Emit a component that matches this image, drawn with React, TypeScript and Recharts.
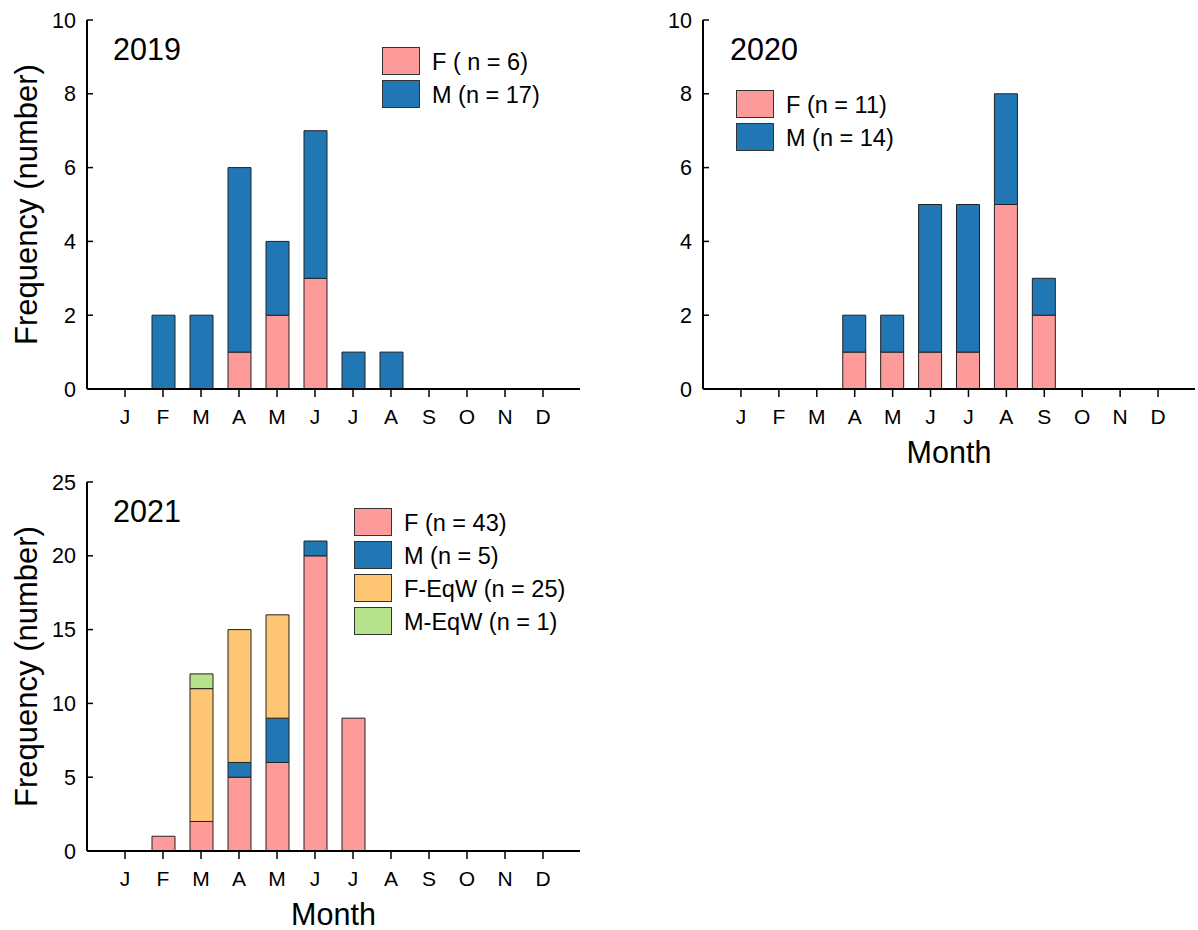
import React from 'react';
import { BarChart, Bar, XAxis, YAxis } from 'recharts';

const monthKeys = ['Jan', 'Feb', 'Mar', 'Apr', 'May', 'Jun', 'Jul', 'Aug', 'Sep', 'Oct', 'Nov', 'Dec'];
const monthLabels = ['J', 'F', 'M', 'A', 'M', 'J', 'J', 'A', 'S', 'O', 'N', 'D'];

const f2019 = [0, 0, 0, 1, 2, 3, 0, 0, 0, 0, 0, 0];
const m2019 = [0, 2, 2, 5, 2, 4, 1, 1, 0, 0, 0, 0];

const f2020 = [0, 0, 0, 1, 1, 1, 1, 5, 2, 0, 0, 0];
const m2020 = [0, 0, 0, 1, 1, 4, 4, 3, 1, 0, 0, 0];

const f2021 = [0, 1, 2, 5, 6, 20, 9, 0, 0, 0, 0, 0];
const m2021 = [0, 0, 0, 1, 3, 1, 0, 0, 0, 0, 0, 0];
const feqw2021 = [0, 0, 9, 9, 7, 0, 0, 0, 0, 0, 0, 0];
const meqw2021 = [0, 0, 1, 0, 0, 0, 0, 0, 0, 0, 0, 0];

const ticks10 = [0, 2, 4, 6, 8, 10];
const ticks25 = [0, 5, 10, 15, 20, 25];

const legend2019 = ['F ( n = 6)', 'M (n = 17)'];
const legend2020 = ['F (n = 11)', 'M (n = 14)'];
const legend2021 = ['F (n = 43)', 'M (n = 5)', 'F-EqW (n = 25)', 'M-EqW (n = 1)'];

const PINK = '#FD9A9A';
const BLUE = '#2077B4';
const ORANGE = '#FEC674';
const GREEN = '#B6E28B';
const FONT = '"Liberation Sans", Arial, Helvetica, sans-serif';

type Series = { key: string; values: number[]; color: string; label: string };

function buildData(series: Series[]) {
  return monthKeys.map((m, i) => {
    const row: Record<string, number | string> = { month: m };
    series.forEach((s) => {
      row[s.key] = s.values[i];
    });
    return row;
  });
}

type PanelProps = {
  left: number;
  top: number;
  width: number;
  height: number;
  marginRight: number;
  xAxisHeight: number;
  yMax: number;
  yTicks: number[];
  series: Series[];
  year: string;
  yearX: number;
  legendX: number;
  legendY: number;
  showYTitle: boolean;
  showMonth: boolean;
};

function Panel(p: PanelProps) {
  const data = buildData(p.series);
  const plotTop = 20;
  const plotBottom = p.height - p.xAxisHeight;
  const plotLeft = 87;
  const plotRight = p.width - p.marginRight;
  return (
    <div style={{ position: 'absolute', left: p.left, top: p.top, width: p.width, height: p.height }}>
      <BarChart
        width={p.width}
        height={p.height}
        data={data}
        margin={{ top: plotTop, right: p.marginRight, bottom: 0, left: 0 }}
        barGap={0}
      >
        <XAxis
          dataKey="month"
          height={p.xAxisHeight}
          padding={{ left: 19, right: 18 }}
          tickFormatter={(_v: string, i: number) => monthLabels[i]}
          interval={0}
          tickSize={8}
          tickMargin={12}
          axisLine={{ stroke: '#000', strokeWidth: 2 }}
          tickLine={{ stroke: '#000', strokeWidth: 1.5 }}
          tick={{ fill: '#000', fontSize: 21, fontFamily: FONT }}
        />
        <XAxis
          xAxisId="top"
          dataKey="month"
          orientation="top"
          height={0}
          padding={{ left: 19, right: 18 }}
          tick={false}
          tickLine={false}
          axisLine={{ stroke: '#000', strokeWidth: 2 }}
        />
        <YAxis
          width={87}
          domain={[0, p.yMax]}
          ticks={p.yTicks}
          allowDataOverflow
          tickSize={-6}
          tickMargin={17}
          axisLine={{ stroke: '#000', strokeWidth: 2 }}
          tickLine={{ stroke: '#000', strokeWidth: 1.5 }}
          tick={{ fill: '#000', fontSize: 21.5, fontFamily: FONT }}
        />
        <YAxis
          yAxisId="r"
          orientation="right"
          width={0}
          domain={[0, p.yMax]}
          ticks={p.yTicks}
          tick={false}
          tickSize={-6}
          axisLine={{ stroke: '#000', strokeWidth: 2 }}
          tickLine={{ stroke: '#000', strokeWidth: 1.5 }}
        />
        {p.series.map((s) => (
          <Bar
            key={s.key}
            dataKey={s.key}
            name={s.label}
            stackId="a"
            fill={s.color}
            stroke="#222"
            strokeWidth={1}
            barSize={23}
            isAnimationActive={false}
          />
        ))}
      </BarChart>
      <svg
        width={p.width}
        height={p.height}
        style={{ position: 'absolute', left: 0, top: 0, pointerEvents: 'none' }}
      >
        <text x={p.yearX} y={60} fontSize={30.5} fontFamily={FONT} fill="#000">
          {p.year}
        </text>
        {p.showYTitle && (
          <text
            transform={`translate(37, ${(plotTop + plotBottom) / 2}) rotate(-90)`}
            textAnchor="middle"
            fontSize={31}
            fontFamily={FONT}
            fill="#000"
          >
            Frequency (number)
          </text>
        )}
        {p.showMonth && (
          <text
            x={(plotLeft + plotRight) / 2}
            y={plotBottom + 74}
            textAnchor="middle"
            fontSize={30.5}
            fontFamily={FONT}
            fill="#000"
          >
            Month
          </text>
        )}
        {p.series.map((s, i) => (
          <g key={s.key}>
            <rect
              x={p.legendX + 0.5}
              y={p.legendY + i * 33 + 0.5}
              width={37}
              height={27}
              fill={s.color}
              stroke="#333"
              strokeWidth={1}
            />
            <text
              x={p.legendX + 50}
              y={p.legendY + i * 33 + 22.5}
              fontSize={23.5}
              fontFamily={FONT}
              fill="#000"
            >
              {s.label}
            </text>
          </g>
        ))}
      </svg>
    </div>
  );
}

export default function App() {
  const s2019: Series[] = [
    { key: 'F', values: f2019, color: PINK, label: legend2019[0] },
    { key: 'M', values: m2019, color: BLUE, label: legend2019[1] },
  ];
  const s2020: Series[] = [
    { key: 'F', values: f2020, color: PINK, label: legend2020[0] },
    { key: 'M', values: m2020, color: BLUE, label: legend2020[1] },
  ];
  const s2021: Series[] = [
    { key: 'F', values: f2021, color: PINK, label: legend2021[0] },
    { key: 'M', values: m2021, color: BLUE, label: legend2021[1] },
    { key: 'FEqW', values: feqw2021, color: ORANGE, label: legend2021[2] },
    { key: 'MEqW', values: meqw2021, color: GREEN, label: legend2021[3] },
  ];
  return (
    <div style={{ position: 'absolute', left: 0, top: 0, width: 1198, height: 930, background: '#fff', fontFamily: FONT }}>
      <Panel
        left={0}
        top={0}
        width={600}
        height={440}
        marginRight={20}
        xAxisHeight={51}
        yMax={10}
        yTicks={ticks10}
        series={s2019}
        year="2019"
        yearX={113}
        legendX={382}
        legendY={47}
        showYTitle
        showMonth={false}
      />
      <Panel
        left={616}
        top={0}
        width={582}
        height={470}
        marginRight={3}
        xAxisHeight={81}
        yMax={10}
        yTicks={ticks10}
        series={s2020}
        year="2020"
        yearX={114}
        legendX={120}
        legendY={90}
        showYTitle={false}
        showMonth
      />
      <Panel
        left={0}
        top={462}
        width={600}
        height={468}
        marginRight={20}
        xAxisHeight={79}
        yMax={25}
        yTicks={ticks25}
        series={s2021}
        year="2021"
        yearX={113}
        legendX={354}
        legendY={46}
        showYTitle
        showMonth
      />
    </div>
  );
}
